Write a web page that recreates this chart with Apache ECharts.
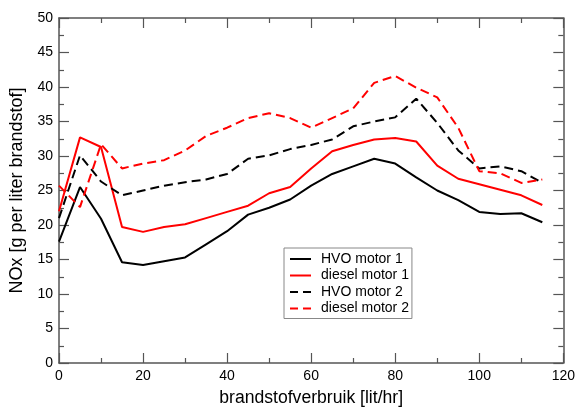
<!DOCTYPE html>
<html>
<head>
<meta charset="utf-8">
<script src="https://cdn.jsdelivr.net/npm/echarts@6/dist/echarts.min.js"></script>
<style>html,body{margin:0;padding:0;background:#fff;}#c{width:578px;height:412px;}</style>
</head>
<body>
<div id="c"></div>
<script>
var xs = [0,5,10,15,20,25,30,35,40,45,50,55,60,65,70,75,80,85,90,95,100,105,110,115];
var hvo1 = [17.6,25.5,20.9,14.6,14.2,14.75,15.3,17.2,19.1,21.5,22.5,23.7,25.7,27.4,28.5,29.6,28.9,26.9,25.0,23.6,21.9,21.6,21.7,20.4];
var diesel1 = [22.0,32.7,31.3,19.7,19.0,19.7,20.1,21.0,21.9,22.8,24.6,25.5,28.2,30.7,31.6,32.4,32.6,32.1,28.6,26.7,25.9,25.1,24.3,22.9];
var hvo2 = [21.0,30.1,26.3,24.3,25.0,25.7,26.2,26.6,27.4,29.6,30.1,31.0,31.6,32.4,34.3,35.0,35.6,38.3,34.8,30.8,28.2,28.5,27.8,26.1];
var diesel2 = [25.7,22.6,31.7,28.2,28.9,29.4,30.8,32.9,34.1,35.5,36.2,35.5,34.1,35.5,36.9,40.6,41.6,39.9,38.5,34.1,27.8,27.5,26.1,26.6];
var names = ['HVO motor 1','diesel motor 1','HVO motor 2','diesel motor 2'];
var xTitle = 'brandstofverbruik [lit/hr]';
var yTitle = 'NOx [g per liter brandstof]';

function pairs(v){ return xs.map(function(x,i){ return [x, v[i]]; }); }
var font = 'Liberation Sans, Arial, Helvetica, sans-serif';
var axisColor = '#555';
var solidIcon = 'path://M0,0h21v2h-21z';
var dashIcon = 'path://M0,0h8v2h-8zM13,0h8v2h-8z';
function axisBase(extra){
  var a = {
    type:'value',
    axisLine:{show:true,onZero:false,lineStyle:{color:axisColor,width:1.5}},
    axisTick:{show:true,inside:true,length:10,lineStyle:{color:axisColor,width:1.2}},
    minorTick:{show:true,splitNumber:2,length:5,lineStyle:{color:axisColor,width:1.2}},
    splitLine:{show:false},
    minorSplitLine:{show:false},
    axisLabel:{color:'#000',fontSize:14,fontFamily:font}
  };
  for (var k in extra) a[k]=extra[k];
  return a;
}
function mk(name,data,color,dashed){
  return {name:name,type:'line',data:pairs(data),symbol:'none',showSymbol:false,
    lineStyle:{color:color,width:2,type:dashed?[9,5]:'solid'},itemStyle:{color:color},
    emphasis:{disabled:true},animation:false,z:2};
}
var chart = echarts.init(document.getElementById('c'),null,{renderer:'canvas'});
chart.setOption({
  animation:false,
  backgroundColor:'#fff',
  grid:{left:54.5,right:13,top:18,bottom:37},
  xAxis:[
    axisBase({min:0,max:120,interval:20,position:'bottom',name:xTitle,nameLocation:'middle',nameGap:26,
      nameTextStyle:{color:'#000',fontSize:17.6,fontFamily:font},axisLabel:{color:'#000',fontSize:14,fontFamily:font,margin:6}}),
    axisBase({min:0,max:120,interval:20,position:'top',axisLabel:{show:false}})
  ],
  yAxis:[
    axisBase({min:0,max:50,interval:5,position:'left',name:yTitle,nameLocation:'middle',nameGap:33,
      nameTextStyle:{color:'#000',fontSize:18,fontFamily:font},axisLabel:{color:'#000',fontSize:14,fontFamily:font,margin:6}}),
    axisBase({min:0,max:50,interval:5,position:'right',axisLabel:{show:false}})
  ],
  legend:{
    orient:'vertical',left:284,top:248,
    data:[
      {name:names[0],icon:solidIcon},
      {name:names[1],icon:solidIcon},
      {name:names[2],icon:dashIcon},
      {name:names[3],icon:dashIcon}
    ],
    itemWidth:21,itemHeight:14,itemGap:2.5,
    padding:[4,3,3,6],
    borderColor:'#888',borderWidth:1,backgroundColor:'#fff',
    textStyle:{color:'#000',fontSize:14,fontFamily:font,padding:[0,0,0,5],lineHeight:14},
    selectedMode:false
  },
  series:[
    mk(names[0],hvo1,'#000',false),
    mk(names[1],diesel1,'#ff0000',false),
    mk(names[2],hvo2,'#000',true),
    mk(names[3],diesel2,'#ff0000',true)
  ]
});
</script>
</body>
</html>
